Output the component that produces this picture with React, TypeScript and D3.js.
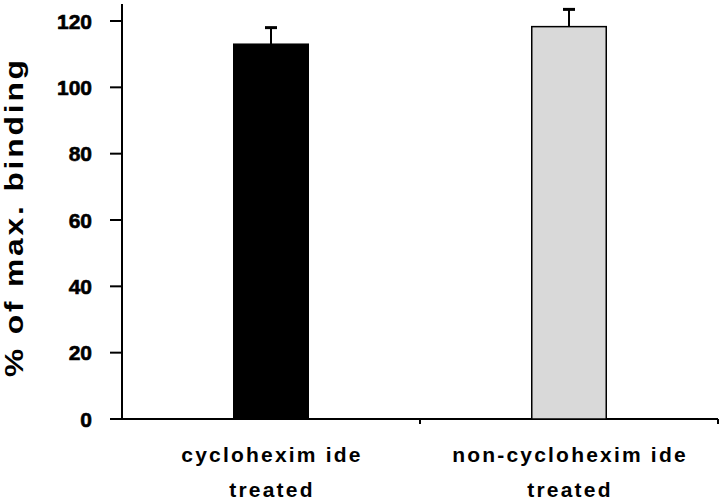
import { useRef, useEffect } from 'react';
import * as d3 from 'd3';

const categories = ['cyclohexim ide|treated', 'non-cyclohexim ide|treated'];
const means = [113, 118.3];
const errors = [5, 5.2];
const fills = ['#000000', '#d9d9d9'];
const yTicks = [0, 20, 40, 60, 80, 100, 120];
const yLabel = '% of max. binding';

const useD3 = (renderChartFn, dependencies) => {
  const ref = useRef();
  useEffect(() => {
    renderChartFn(d3.select(ref.current));
    return () => {};
  }, dependencies);
  return ref;
};

const BarChart = () => {
  const ref = useD3((svg) => {
    svg.selectAll('*').remove();
    const font = "'Liberation Sans', Arial, sans-serif";
    const left = 122;
    const right = 718;
    const data = categories.map((c, i) => ({ name: c, mean: means[i], err: errors[i], fill: fills[i] }));

    const x = d3.scaleBand().domain(categories).range([left, right]).padding(0);
    const y = d3.scaleLinear().domain([0, 120]).range([419, 21]);
    const barW = x.bandwidth() * 0.25;

    // y axis
    const yAxis = svg.append('g').attr('transform', `translate(${left},0)`);
    yAxis.append('line')
      .attr('x1', 0).attr('x2', 0)
      .attr('y1', y(0)).attr('y2', 4)
      .attr('stroke', '#000').attr('stroke-width', 2);
    yAxis.selectAll('.tick')
      .data(yTicks)
      .join('line')
      .attr('x1', -12).attr('x2', 0)
      .attr('y1', (d) => y(d)).attr('y2', (d) => y(d))
      .attr('stroke', '#000').attr('stroke-width', 2);
    yAxis.selectAll('.lbl')
      .data(yTicks)
      .join('text')
      .attr('x', -30)
      .attr('y', (d) => y(d) + 7.5)
      .attr('text-anchor', 'end')
      .attr('font-family', font)
      .attr('font-weight', 'bold')
      .attr('font-size', 21)
      .attr('stroke', '#000')
      .attr('stroke-width', 0.6)
      .text((d) => d);

    // x axis
    const xAxis = svg.append('g').attr('transform', `translate(0,${y(0)})`);
    xAxis.append('line')
      .attr('x1', left - 12).attr('x2', right)
      .attr('y1', 0).attr('y2', 0)
      .attr('stroke', '#000').attr('stroke-width', 2);
    xAxis.selectAll('.xt')
      .data([...categories.slice(1).map((c) => x(c)), right])
      .join('line')
      .attr('x1', (d) => d).attr('x2', (d) => d)
      .attr('y1', 0).attr('y2', 5)
      .attr('stroke', '#000').attr('stroke-width', 2);

    const labels = xAxis.selectAll('.cat')
      .data(categories)
      .join('text')
      .attr('text-anchor', 'middle')
      .attr('font-family', font)
      .attr('font-weight', 'bold')
      .attr('font-size', 21)
      .attr('letter-spacing', 2.2);
    labels.each(function (d) {
      const t = d3.select(this);
      const cx = x(d) + x.bandwidth() / 2 + 1;
      d.split('|').forEach((line, i) => {
        t.append('tspan').attr('x', cx).attr('y', 43 + i * 35).text(line);
      });
    });

    // bars
    const bars = svg.append('g');
    bars.selectAll('rect')
      .data(data)
      .join('rect')
      .attr('x', (d) => x(d.name) + x.bandwidth() / 2 - barW / 2)
      .attr('width', barW)
      .attr('y', (d) => y(d.mean))
      .attr('height', (d) => y(0) - y(d.mean))
      .attr('fill', (d) => d.fill)
      .attr('stroke', '#000')
      .attr('stroke-width', 1.5);

    // error bars
    bars.selectAll('.err')
      .data(data)
      .join('line')
      .attr('x1', (d) => x(d.name) + x.bandwidth() / 2)
      .attr('x2', (d) => x(d.name) + x.bandwidth() / 2)
      .attr('y1', (d) => y(d.mean))
      .attr('y2', (d) => y(d.mean + d.err))
      .attr('stroke', '#000').attr('stroke-width', 2);
    bars.selectAll('.cap')
      .data(data)
      .join('line')
      .attr('x1', (d) => x(d.name) + x.bandwidth() / 2 - 6)
      .attr('x2', (d) => x(d.name) + x.bandwidth() / 2 + 6)
      .attr('y1', (d) => y(d.mean + d.err))
      .attr('y2', (d) => y(d.mean + d.err))
      .attr('stroke', '#000').attr('stroke-width', 3);

    // y label (glyphs are wide in the original, so stretch along the text)
    svg.append('text')
      .attr('transform', `translate(23,${(377 + 60) / 2}) rotate(-90) scale(1.22,1)`)
      .attr('text-anchor', 'middle')
      .attr('font-family', font)
      .attr('font-weight', 'bold')
      .attr('font-size', 26)
      .attr('textLength', 317 / 1.22)
      .attr('lengthAdjust', 'spacing')
      .text(yLabel);
  }, []);

  return <svg ref={ref} width={720} height={503} style={{ display: 'block', background: '#fff' }} />;
};

export default function App() {
  return (
    <div style={{ position: 'absolute', left: 0, top: 0 }}>
      <BarChart />
    </div>
  );
}
